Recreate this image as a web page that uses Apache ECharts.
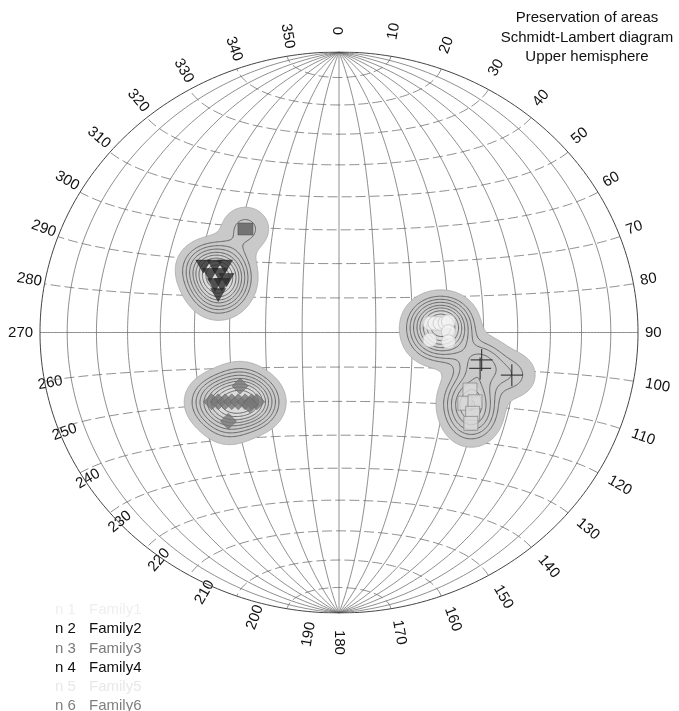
<!DOCTYPE html>
<html>
<head>
<meta charset="utf-8">
<script src="https://cdn.jsdelivr.net/npm/echarts@6/dist/echarts.min.js"></script>
<style>
html,body{margin:0;padding:0;background:#fff}
#chart{width:679px;height:711px}
</style>
</head>
<body>
<div id="chart"></div>
<script>
// Projected positions in net units: primitive circle radius 1, x east, y north.
const family1 = [[0.304,0.033],[0.321,0.033],[0.338,0.033],[0.355,0.035],[0.366,0.039],[0.366,0.003],[0.304,-0.027],[0.366,-0.033]];
const family2 = [[-0.454,0.235],[-0.415,0.235],[-0.381,0.235],[-0.431,0.205],[-0.398,0.205],[-0.376,0.187],[-0.415,0.169],[-0.392,0.169],[-0.404,0.134]];
const family3 = [[-0.426,-0.247],[-0.404,-0.247],[-0.381,-0.247],[-0.359,-0.247],[-0.337,-0.247],[-0.314,-0.247],[-0.292,-0.247],[-0.275,-0.247],[-0.331,-0.191],[-0.298,-0.258],[-0.370,-0.316]];
const family4 = [[0.477,-0.098],[0.472,-0.128],[0.578,-0.152]];
const family5 = [[0.438,-0.205],[0.421,-0.252],[0.455,-0.247],[0.447,-0.288],[0.441,-0.324]];
const family6 = [[-0.313,0.369]];

const familyNames = ['Family1','Family2','Family3','Family4','Family5','Family6'];
const familyNumbers = ['n 1','n 2','n 3','n 4','n 5','n 6'];
const familyTextColors = ['#efefef','#111111','#7a7a7a','#111111','#e8e8e8','#7f7f7f'];

const azimuthLabels = [0,10,20,30,40,50,60,70,80,90,100,110,120,130,140,150,160,170,180,190,200,210,220,230,240,250,260,270,280,290,300,310,320,330,340,350];
const titleLines = ['Preservation of areas','Schmidt-Lambert diagram','Upper hemisphere'];

// Density contouring parameters (net units)
const SIGMA = 0.05;
const FILL_LEVELS = [
  {level:0.3, color:'#c9c9c9', stroke:'#a8a8a8'},
  {level:2.6, color:'#d2d2d2', stroke:null},
  {level:4.0, color:'#dcdcdc', stroke:null}
];
const LINE_LEVELS = [0.8,1.2,1.7,2.3,2.9,3.6,4.4,5.2];

const FONT = '"Liberation Sans", Arial, sans-serif';

// ---------- Schmidt (equal-area) net ----------
function project(e, n, d) {
  const k = 1 / Math.sqrt(1 + d);
  return [e * k, n * k];
}
const rad = Math.PI / 180;
const meridians = [];
for (let a = 10; a < 180; a += 10) {
  const pts = [];
  for (let k = 0; k <= 180; k++) {
    const t = Math.PI * k / 180;
    pts.push(project(Math.sin(t) * Math.cos(a * rad), Math.cos(t), Math.sin(t) * Math.sin(a * rad)));
  }
  meridians.push(pts);
}
const smallCircles = [];
for (let b = 10; b < 180; b += 10) {
  const pts = [];
  for (let k = 0; k <= 180; k++) {
    const s = Math.PI * k / 180;
    pts.push(project(Math.sin(b * rad) * Math.cos(s), Math.cos(b * rad), Math.sin(b * rad) * Math.sin(s)));
  }
  smallCircles.push({beta: b, pts});
}
const primitive = [];
for (let k = 0; k <= 360; k++) primitive.push([Math.sin(k * rad), Math.cos(k * rad)]);

// ---------- Kernel density of all poles + marching squares ----------
const allPoles = [].concat(family1, family2, family3, family4, family5, family6);
const STEP = 0.004;
const xs = [], ys = [];
for (let x = -1; x <= 1.0001; x += STEP) xs.push(x);
for (let y = -1; y <= 1.0001; y += STEP) ys.push(y);
const NX = xs.length, NY = ys.length;
const dens = new Float64Array(NX * NY);
(function () {
  const two = 2 * SIGMA * SIGMA, cut = 25 * SIGMA * SIGMA;
  for (let j = 0; j < NY; j++) {
    for (let i = 0; i < NX; i++) {
      let s = 0;
      for (const p of allPoles) {
        const dx = xs[i] - p[0], dy = ys[j] - p[1];
        const d2 = dx * dx + dy * dy;
        if (d2 < cut) s += Math.exp(-d2 / two);
      }
      dens[j * NX + i] = s;
    }
  }
})();

function contourLoops(L) {
  const pts = new Map(), adj = new Map();
  function link(e1, e2) {
    pts.set(e1[0], e1[1]); pts.set(e2[0], e2[1]);
    if (!adj.has(e1[0])) adj.set(e1[0], []);
    if (!adj.has(e2[0])) adj.set(e2[0], []);
    adj.get(e1[0]).push(e2[0]); adj.get(e2[0]).push(e1[0]);
  }
  for (let j = 0; j < NY - 1; j++) {
    for (let i = 0; i < NX - 1; i++) {
      const a = dens[j * NX + i], b = dens[j * NX + i + 1], c = dens[(j + 1) * NX + i + 1], d = dens[(j + 1) * NX + i];
      const idx = (a > L ? 1 : 0) | (b > L ? 2 : 0) | (c > L ? 4 : 0) | (d > L ? 8 : 0);
      if (idx === 0 || idx === 15) continue;
      const x0 = xs[i], x1 = xs[i + 1], y0 = ys[j], y1 = ys[j + 1];
      const B = () => ['h' + i + '_' + j, [x0 + (L - a) / (b - a) * (x1 - x0), y0]];
      const R = () => ['v' + (i + 1) + '_' + j, [x1, y0 + (L - b) / (c - b) * (y1 - y0)]];
      const T = () => ['h' + i + '_' + (j + 1), [x0 + (L - d) / (c - d) * (x1 - x0), y1]];
      const Lf = () => ['v' + i + '_' + j, [x0, y0 + (L - a) / (d - a) * (y1 - y0)]];
      const center = (a + b + c + d) / 4;
      switch (idx) {
        case 1: case 14: link(Lf(), B()); break;
        case 2: case 13: link(B(), R()); break;
        case 3: case 12: link(Lf(), R()); break;
        case 4: case 11: link(R(), T()); break;
        case 6: case 9: link(B(), T()); break;
        case 7: case 8: link(Lf(), T()); break;
        case 5:
          if (center > L) { link(B(), R()); link(T(), Lf()); } else { link(Lf(), B()); link(R(), T()); }
          break;
        case 10:
          if (center > L) { link(Lf(), B()); link(R(), T()); } else { link(B(), R()); link(T(), Lf()); }
          break;
      }
    }
  }
  const visited = new Set(), loops = [];
  for (const start of adj.keys()) {
    if (visited.has(start)) continue;
    const loop = [];
    let prev = null, cur = start;
    while (cur !== null && !visited.has(cur)) {
      visited.add(cur);
      loop.push(pts.get(cur));
      let next = null;
      for (const n of adj.get(cur)) { if (n !== prev && !visited.has(n)) { next = n; break; } }
      prev = cur; cur = next;
    }
    if (loop.length > 2) loops.push(loop);
  }
  return loops;
}
const fillLoops = FILL_LEVELS.map(f => ({color: f.color, stroke: f.stroke, loops: contourLoops(f.level)}));
const lineLoops = [];
LINE_LEVELS.forEach(l => contourLoops(l).forEach(lp => lineLoops.push(lp)));

// ---------- Chart ----------
const chart = echarts.init(document.getElementById('chart'), null, {renderer: 'canvas'});

const netSeries = [];
meridians.forEach(pts => netSeries.push({
  type: 'line', data: pts, symbol: 'none', silent: true, animation: false, z: 1,
  lineStyle: {color: '#5e5e5e', width: 0.7}
}));
smallCircles.forEach(sc => netSeries.push({
  type: 'line', data: sc.pts, symbol: 'none', silent: true, animation: false, z: 1,
  lineStyle: {color: '#5e5e5e', width: 0.7, type: sc.beta === 90 ? 'solid' : [10, 4]}
}));
netSeries.push({
  type: 'line', data: primitive, symbol: 'none', silent: true, animation: false, z: 1,
  lineStyle: {color: '#444', width: 1}
});

const contourSeries = {
  type: 'custom', data: [[0, 0]], silent: true, animation: false, z: 2,
  renderItem: function (params, api) {
    const children = [];
    fillLoops.forEach(f => f.loops.forEach(loop => {
      children.push({
        type: 'polygon',
        shape: {points: loop.map(p => api.coord(p))},
        style: {fill: f.color, stroke: f.stroke || 'none', lineWidth: 0.8}
      });
    }));
    lineLoops.forEach(loop => {
      const p = loop.map(q => api.coord(q));
      p.push(p[0]);
      children.push({
        type: 'polyline',
        shape: {points: p},
        style: {fill: 'none', stroke: '#5a5a5a', lineWidth: 0.9}
      });
    });
    return {type: 'group', children};
  }
};

const crossPath = 'path://M10,0h1.2v10h10v1.2h-10v10h-1.2v-10h-10v-1.2h10z';
const markerSeries = [
  {name: 'Family1', type: 'scatter', data: family1, symbol: 'circle', symbolSize: 14,
   itemStyle: {color: '#f3f3f3', borderColor: '#c4c4c4', borderWidth: 1}},
  {name: 'Family2', type: 'scatter', data: family2, symbol: 'triangle', symbolRotate: 180, symbolSize: [15, 13],
   itemStyle: {color: '#2e2e2e', borderColor: '#1a1a1a', borderWidth: 0.5}},
  {name: 'Family3', type: 'scatter', data: family3, symbol: 'diamond', symbolSize: 16,
   itemStyle: {color: '#787878', borderColor: '#5a5a5a', borderWidth: 0.6}},
  {name: 'Family4', type: 'scatter', data: family4, symbol: crossPath, symbolSize: 22,
   itemStyle: {color: '#222'}},
  {name: 'Family5', type: 'scatter', data: family5, symbol: 'rect', symbolSize: 14,
   itemStyle: {color: '#dadada', borderColor: '#8a8a8a', borderWidth: 1}},
  {name: 'Family6', type: 'scatter', data: family6, symbol: 'rect', symbolSize: [15, 12],
   itemStyle: {color: '#5e5e5e', borderColor: '#454545', borderWidth: 0.6}}
].map(s => Object.assign(s, {silent: true, animation: false, z: 3}));

chart.setOption({
  backgroundColor: '#ffffff',
  animation: false,
  grid: {left: 40, right: 41, top: 52, bottom: 98},
  xAxis: {type: 'value', min: -1, max: 1, show: false},
  yAxis: {type: 'value', min: -1, max: 1, show: false},
  series: netSeries.concat([contourSeries], markerSeries)
});

// ---------- Azimuth labels, title, family list ----------
const c0 = chart.convertToPixel({gridIndex: 0}, [0, 0]);
const cE = chart.convertToPixel({gridIndex: 0}, [1, 0]);
const cN = chart.convertToPixel({gridIndex: 0}, [0, 1]);
const rx = cE[0] - c0[0], ry = c0[1] - cN[1];
const graphics = [];
const DIGIT_W = 8.3;
azimuthLabels.forEach(a => {
  const txt = String(a);
  const w = txt.length * DIGIT_W;
  let x = c0[0] + (rx + 7 + w / 2) * Math.sin(a * rad);
  let y = c0[1] - (ry + 17 + w / 2) * Math.cos(a * rad);
  // labels read outward on the east half, inward on the west half
  const deg = a <= 180 ? 90 - a : 270 - a;
  if (a > 90 && a < 180) {
    x += 5;
    y -= 6 * (a - 90) / 90;
  } else if (a > 180 && a < 270) {
    // south-west labels are anchored at their inner end
    x += w;
    y -= 10 * Math.sin(2 * (a - 180) * rad);
  } else if (a > 270) {
    x += 4;
    y += 10 * (a - 270) / 90;
  }
  graphics.push({
    type: 'text', x, y, rotation: deg * rad, silent: true,
    style: {text: txt, fill: '#111', font: '15px ' + FONT, align: 'center', verticalAlign: 'middle'}
  });
});
titleLines.forEach((t, i) => graphics.push({
  type: 'text', x: 587, y: 18 + i * 19.5, silent: true,
  style: {text: t, fill: '#111', font: '15px ' + FONT, align: 'center', verticalAlign: 'middle'}
}));
familyNames.forEach((nm, i) => {
  const y = 610 + i * 19.2;
  graphics.push({type: 'text', x: 55, y, silent: true,
    style: {text: familyNumbers[i], fill: familyTextColors[i], font: '15px ' + FONT, align: 'left', verticalAlign: 'middle'}});
  graphics.push({type: 'text', x: 89, y, silent: true,
    style: {text: nm, fill: familyTextColors[i], font: '15px ' + FONT, align: 'left', verticalAlign: 'middle'}});
});
chart.setOption({graphic: graphics});
</script>
</body>
</html>
